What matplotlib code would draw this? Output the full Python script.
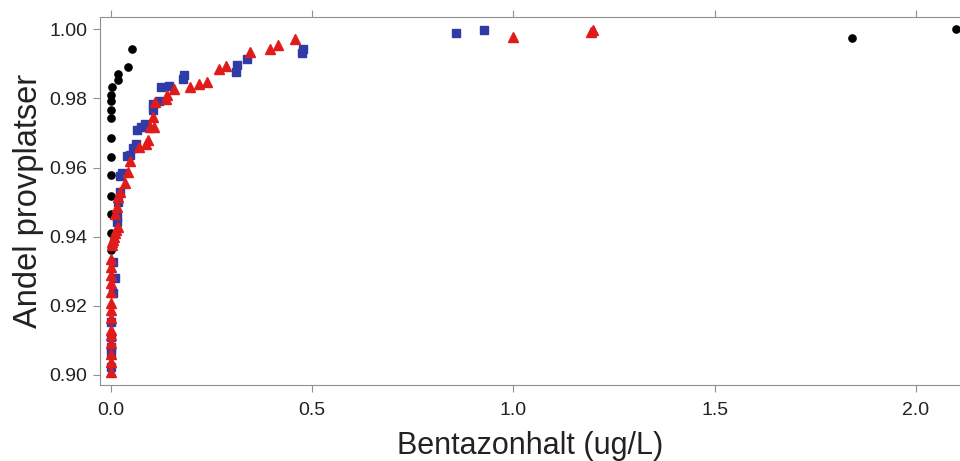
import matplotlib.pyplot as plt

plt.rcParams['font.family'] = ['Liberation Sans', 'DejaVu Sans']

# Black circles
black_x = [0.0, 0.0, 0.0, 0.0, 0.0, 0.0, 0.0, 0.0, 0.0, 0.0, 0.001, 0.004,
           0.017, 0.017, 0.044, 0.052, 1.841, 2.1]
black_y = [0.9361, 0.9412, 0.9467, 0.9519, 0.9578, 0.9631, 0.9686, 0.9742,
           0.9766, 0.9793, 0.9809, 0.9832, 0.9853, 0.9870, 0.9891, 0.9944,
           0.9974, 1.0]

# Blue squares
blue_x = [0.928, 0.858, 0.478, 0.474, 0.339, 0.314, 0.311, 0.183, 0.180,
          0.145, 0.126, 0.120, 0.106, 0.106, 0.085, 0.075, 0.065, 0.063,
          0.055, 0.048, 0.041, 0.029, 0.024, 0.023, 0.019, 0.016, 0.015,
          0.006, 0.011, 0.006, 0.0, 0.0, 0.0, 0.0, 0.0]
blue_y = [0.9999, 0.9989, 0.9944, 0.9932, 0.9915, 0.9898, 0.9877, 0.9867,
          0.9855, 0.9837, 0.9832, 0.9793, 0.9785, 0.9768, 0.9725, 0.9718,
          0.9710, 0.9668, 0.9658, 0.9636, 0.9634, 0.9584, 0.9576, 0.9530,
          0.9501, 0.9458, 0.9443, 0.9328, 0.9280, 0.9236, 0.9154, 0.9111,
          0.9082, 0.9063, 0.9024]

# Red triangles
red_x = [1.199, 1.193, 1.0, 0.457, 0.416, 0.396, 0.347, 0.286, 0.270, 0.238,
         0.218, 0.196, 0.158, 0.139, 0.137, 0.110, 0.106, 0.108, 0.098, 0.093,
         0.088, 0.071, 0.048, 0.044, 0.036, 0.023, 0.019, 0.015, 0.011, 0.019,
         0.013, 0.011, 0.008, 0.006, 0.004, 0.002, 0.0, 0.0, 0.0, 0.0, 0.0,
         0.0, 0.0, 0.0, 0.0, 0.0, 0.0, 0.0, 0.0, 0.0]
red_y = [0.9997, 0.9993, 0.9978, 0.9973, 0.9956, 0.9944, 0.9933, 0.9895,
         0.9885, 0.9848, 0.9843, 0.9834, 0.9826, 0.9809, 0.9797, 0.9790,
         0.9747, 0.9716, 0.9716, 0.9679, 0.9668, 0.9660, 0.9620, 0.9588,
         0.9554, 0.9530, 0.9515, 0.9486, 0.9467, 0.9429, 0.9420, 0.9410,
         0.9400, 0.9390, 0.9385, 0.9376, 0.9335, 0.9313, 0.9290, 0.9265,
         0.9241, 0.9207, 0.9188, 0.9165, 0.9130, 0.9115, 0.9092, 0.9060,
         0.9038, 0.9010]

xticks = [0.0, 0.5, 1.0, 1.5, 2.0]
yticks = [0.90, 0.92, 0.94, 0.96, 0.98, 1.00]

fig = plt.figure(figsize=(9.6, 4.61), dpi=100)
ax = fig.add_axes([0.1042, 0.1649, 0.8958, 0.7982])

ax.plot(black_x, black_y, 'o', color='black', markersize=5.2, clip_on=False)
ax.plot(blue_x, blue_y, 's', color='#2f3ca8', markersize=5.5, clip_on=False)
ax.plot(red_x, red_y, '^', color='#e01b1b', markersize=7, clip_on=False)

ax.set_xlim(-0.0266, 2.1095)
ax.set_ylim(0.8971, 1.00356)

ax.set_xticks(xticks)
ax.set_xticklabels(['%.1f' % v for v in xticks])
ax.set_yticks(yticks)
ax.set_yticklabels(['%.2f' % v for v in yticks])

ax.spines['right'].set_visible(False)
for s in ['left', 'bottom', 'top']:
    ax.spines[s].set_color('#909090')

ax.tick_params(axis='both', direction='out', length=5, color='#909090',
               labelsize=14, labelcolor='#222222')
ax.tick_params(axis='x', top=True, pad=7)
ax.tick_params(axis='y', pad=4)

ax.set_xlabel('Bentazonhalt (ug/L)', fontsize=22, color='#222222', labelpad=9)
ax.set_ylabel('Andel provplatser', fontsize=23.5, color='#222222', labelpad=4)

fig.savefig('out.png', dpi=100)
